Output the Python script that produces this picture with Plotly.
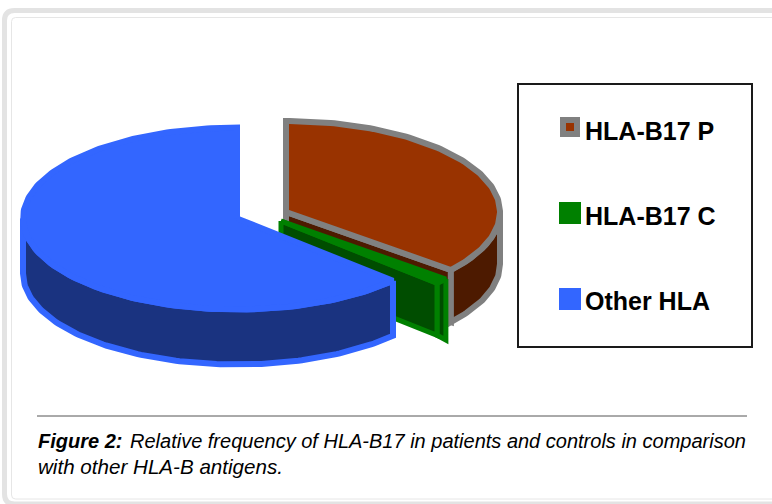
import math
import plotly.graph_objects as go

labels = ["HLA-B17 P", "HLA-B17 C", "Other HLA"]
values = [36, 1, 63]
top_colors = ["#993300", "#006600", "#3366ff"]
wall_colors = ["#4d1a00", "#004d00", "#1a3380"]
line_colors = ["#808080", "#008000", "#3366ff"]
caption_bold = "Figure 2:"
caption_1 = "Relative frequency of HLA-B17 in patients and controls in comparison"
caption_2 = "with other HLA-B antigens."

# pie projection (pixel space of the page)
RX, RY = 214, 91
DEPTHS = [52, 52, 55]
centres = [(286, 212), (281, 221), (237, 218.5)]

spans = [v / sum(values) * 360 for v in values]
starts = [90, 90 - spans[0], 90 - spans[0] - spans[1]]
ends = [starts[i] - spans[i] for i in range(3)]

def pt(i, deg, d=0):
    cx, cy = centres[i]
    a = math.radians(deg)
    return cx + RX * math.cos(a), cy - RY * math.sin(a) + d

def arc(i, a0, a1, d=0):
    n = max(2, int(abs(a1 - a0)) + 1)
    return [pt(i, a0 + (a1 - a0) * k / (n - 1), d) for k in range(n)]

fig = go.Figure()

def poly(pts, fill, line, width, name):
    xs = [p[0] for p in pts] + [pts[0][0]]
    ys = [p[1] for p in pts] + [pts[0][1]]
    fig.add_trace(go.Scatter(x=xs, y=ys, mode="lines", fill="toself", fillcolor=fill,
                             line=dict(color=line, width=width, shape="linear"),
                             name=name, showlegend=False, hoverinfo="name"))

# HLA-B17 P
i = 0
cx, cy = centres[i]
d = DEPTHS[i]
poly([(cx, cy), pt(i, ends[i]), pt(i, ends[i], d), (cx, cy + d)],
     wall_colors[i], line_colors[i], 6, labels[i])
poly(arc(i, ends[i], 0) + arc(i, 0, ends[i], d),
     wall_colors[i], line_colors[i], 6, labels[i])
poly([(cx, cy)] + arc(i, starts[i], ends[i]), top_colors[i], line_colors[i], 6, labels[i])

# HLA-B17 C
i = 1
cx, cy = centres[i]
d = DEPTHS[i]
poly([pt(i, starts[i]), pt(i, ends[i]), pt(i, ends[i], d), pt(i, starts[i], d + 9)],
     wall_colors[i], line_colors[i], 5, labels[i])
poly([(cx, cy), pt(i, ends[i]), pt(i, ends[i], d), (cx, cy + d)],
     wall_colors[i], line_colors[i], 5, labels[i])
poly([(cx, cy)] + arc(i, starts[i], ends[i]), line_colors[i], line_colors[i], 5, labels[i])

# Other HLA (drawn clockwise from the end of C round to 12 o'clock)
i = 2
cx, cy = centres[i]
d = DEPTHS[i]
poly(arc(i, starts[i], -180) + arc(i, -180, starts[i], d),
     wall_colors[i], line_colors[i], 6, labels[i])
poly([(cx, cy)] + arc(i, starts[i], ends[i]), top_colors[i], line_colors[i], 6, labels[i])

# legend markers
leg_x = [570, 570, 570]
leg_y = [127, 213, 299]
leg_text_y = [131, 216, 301]
fig.add_trace(go.Scatter(x=leg_x[:1], y=leg_y[:1], mode="markers", showlegend=False, hoverinfo="skip",
                         marker=dict(symbol="square", size=14, color=top_colors[0],
                                     line=dict(color=line_colors[0], width=6))))
fig.add_trace(go.Scatter(x=leg_x[1:], y=leg_y[1:], mode="markers", showlegend=False, hoverinfo="skip",
                         marker=dict(symbol="square", size=22, color=["#008000", "#3366ff"])))

FONT = "Liberation Sans"
ann = []
for y, lab in zip(leg_text_y, labels):
    ann.append(dict(x=583, y=y, text=f"<b>{lab}</b>", xanchor="left", yanchor="middle",
                    showarrow=False, xref="x", yref="y",
                    font=dict(family=FONT, size=25, color="#000000")))
ann.append(dict(x=36, y=441, text=f"<b><i>{caption_bold}</i></b>", xanchor="left", yanchor="middle",
                showarrow=False, xref="x", yref="y", font=dict(family=FONT, size=20, color="#000000")))
ann.append(dict(x=748, y=441, text=f"<i>{caption_1}</i>", xanchor="right", yanchor="middle",
                showarrow=False, xref="x", yref="y", font=dict(family=FONT, size=20, color="#000000")))
ann.append(dict(x=36, y=466, text=f"<i>{caption_2}</i>", xanchor="left", yanchor="middle",
                showarrow=False, xref="x", yref="y", font=dict(family=FONT, size=20.6, color="#000000")))

def rounded(x0, y0, r, bottom):
    return (f"M 790 {y0} L {x0 + r} {y0} Q {x0} {y0} {x0} {y0 + r} "
            f"L {x0} {bottom - r} Q {x0} {bottom} {x0 + r} {bottom} L 790 {bottom}")

shapes = [
    dict(type="path", path=rounded(4.5, 10.5, 10, 504), line=dict(color="#e3e3e3", width=5), layer="below"),
    dict(type="path", path=rounded(11.5, 17.5, 4, 499), line=dict(color="#e6e6e6", width=1), layer="below"),
    dict(type="rect", x0=518, y0=84, x1=752, y1=347, line=dict(color="#1a1a1a", width=2), fillcolor="#ffffff", layer="below"),
    dict(type="line", x0=37, x1=747, y0=416, y1=416, line=dict(color="#555555", width=1)),
]

fig.update_layout(
    width=772, height=504, margin=dict(l=0, r=0, t=0, b=0),
    paper_bgcolor="#ffffff", plot_bgcolor="#ffffff", showlegend=False,
    xaxis=dict(range=[0, 772], visible=False, fixedrange=True),
    yaxis=dict(range=[504, 0], visible=False, fixedrange=True),
    annotations=ann, shapes=shapes,
)
fig.write_html("out.html", config={"displayModeBar": False},
               post_script="document.body.style.margin='0';document.body.style.overflow='hidden';")
